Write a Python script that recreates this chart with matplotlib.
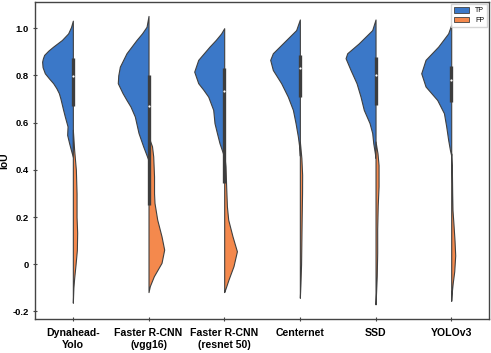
import numpy as np
import matplotlib
matplotlib.use("Agg")
import matplotlib.pyplot as plt
from matplotlib.patches import Patch

plt.rcParams['font.family'] = ['Liberation Sans', 'DejaVu Sans']
plt.rcParams['font.weight'] = 'bold'

models = ['Dynahead-\nYolo', 'Faster R-CNN\n(vgg16)', 'Faster R-CNN\n(resnet 50)',
          'Centernet', 'SSD', 'YOLOv3']

# density profiles: IoU level and half-width (x units)
tp_y = [
    [1.032, 1.005, 0.978, 0.950, 0.922, 0.905, 0.887, 0.872, 0.858, 0.835, 0.809, 0.788,
     0.767, 0.746, 0.725, 0.703, 0.682, 0.655, 0.626, 0.584, 0.548, 0.513, 0.485, 0.455],
    [1.052, 1.006, 0.978, 0.950, 0.922, 0.894, 0.837, 0.800, 0.767, 0.725, 0.696, 0.668,
     0.626, 0.556, 0.499, 0.457, 0.440],
    [1.000, 0.978, 0.950, 0.922, 0.866, 0.816, 0.767, 0.740, 0.710, 0.654, 0.598, 0.556,
     0.513, 0.471, 0.450],
    [1.037, 0.992, 0.936, 0.894, 0.866, 0.823, 0.767, 0.710, 0.654, 0.598, 0.541, 0.499,
     0.460],
    [1.037, 0.992, 0.936, 0.894, 0.873, 0.823, 0.767, 0.710, 0.654, 0.598, 0.556, 0.513,
     0.471, 0.450],
    [1.014, 0.978, 0.922, 0.866, 0.809, 0.753, 0.696, 0.640, 0.584, 0.527, 0.485, 0.460],
]
tp_w = [
    [0.0, 0.024, 0.062, 0.145, 0.260, 0.324, 0.379, 0.396, 0.406, 0.400, 0.370, 0.317,
     0.260, 0.218, 0.185, 0.165, 0.149, 0.129, 0.106, 0.070, 0.075, 0.049, 0.026, 0.0],
    [0.0, 0.026, 0.086, 0.159, 0.225, 0.291, 0.379, 0.400, 0.406, 0.343, 0.291, 0.238,
     0.181, 0.132, 0.070, 0.020, 0.0],
    [0.0, 0.040, 0.112, 0.194, 0.343, 0.396, 0.343, 0.277, 0.211, 0.145, 0.128, 0.096,
     0.062, 0.017, 0.0],
    [0.0, 0.049, 0.225, 0.357, 0.392, 0.357, 0.247, 0.159, 0.092, 0.057, 0.026, 0.009,
     0.0],
    [0.0, 0.044, 0.221, 0.374, 0.396, 0.330, 0.251, 0.198, 0.155, 0.079, 0.044, 0.030,
     0.009, 0.0],
    [0.0, 0.040, 0.172, 0.339, 0.396, 0.339, 0.185, 0.096, 0.066, 0.040, 0.017, 0.0],
]
fp_y = [
    [0.570, 0.485, 0.400, 0.300, 0.200, 0.134, 0.060, 0.000, -0.060, -0.100, -0.163],
    [0.540, 0.500, 0.457, 0.372, 0.300, 0.260, 0.189, 0.118, 0.062, 0.006, -0.051,
     -0.093, -0.118],
    [0.470, 0.414, 0.330, 0.245, 0.189, 0.118, 0.055, -0.008, -0.065, -0.107, -0.118],
    [0.520, 0.450, 0.380, 0.300, 0.200, 0.100, 0.000, -0.080, -0.142],
    [0.520, 0.470, 0.420, 0.330, 0.250, 0.150, 0.050, -0.050, -0.120, -0.170],
    [0.470, 0.400, 0.300, 0.230, 0.170, 0.100, 0.037, -0.030, -0.080, -0.120, -0.155],
]
fp_w = [
    [0.0, 0.017, 0.040, 0.049, 0.049, 0.057, 0.053, 0.036, 0.017, 0.007, 0.0],
    [0.0, 0.046, 0.062, 0.073, 0.073, 0.079, 0.115, 0.172, 0.207, 0.172, 0.070,
     0.017, 0.0],
    [0.0, 0.017, 0.026, 0.036, 0.053, 0.110, 0.168, 0.123, 0.057, 0.013, 0.0],
    [0.0, 0.020, 0.030, 0.029, 0.024, 0.020, 0.016, 0.008, 0.0],
    [0.0, 0.026, 0.040, 0.040, 0.029, 0.022, 0.022, 0.016, 0.007, 0.0],
    [0.0, 0.009, 0.013, 0.017, 0.030, 0.044, 0.053, 0.040, 0.020, 0.007, 0.0],
]

# box stats of the pooled data
q1 = [0.671, 0.252, 0.344, 0.710, 0.675, 0.689]
median = [0.798, 0.671, 0.736, 0.830, 0.802, 0.781]
q3 = [0.873, 0.802, 0.830, 0.887, 0.877, 0.840]

tp_color = '#3b78c8'
fp_color = '#f4894d'
edge = '#404040'

fig = plt.figure(figsize=(4.91, 3.53), dpi=100)
ax = fig.add_axes([0.0713, 0.0963, 0.9247, 0.898])

for i in range(len(models)):
    y = np.array(tp_y[i])
    w = np.array(tp_w[i])
    ax.fill_betweenx(y, i - w, i, facecolor=tp_color, edgecolor=edge, linewidth=0.8, zorder=2)
    y = np.array(fp_y[i])
    w = np.array(fp_w[i])
    ax.fill_betweenx(y, i, i + w, facecolor=fp_color, edgecolor=edge, linewidth=0.8, zorder=2)

    ax.plot([i, i], [q1[i], q3[i]], color='#3d3d3d', linewidth=2.4,
            solid_capstyle='butt', zorder=3)
    ax.plot(i, median[i], 'o', color='white', markersize=1.6, markeredgewidth=0, zorder=4)

ax.set_xlim(-0.5, len(models) - 0.5)
ax.set_ylim(-0.232, 1.111)
ax.set_xticks(range(len(models)))
ax.set_xticklabels(models, fontsize=7.6, fontweight='bold')
yticks = [-0.2, 0, 0.2, 0.4, 0.6, 0.8, 1.0]
ax.set_yticks(yticks)
ax.set_yticklabels(['-0.2', '0', '0.2', '0.4', '0.6', '0.8', '1.0'], fontsize=6.8,
                   fontweight='bold')
ax.set_ylabel('IoU', fontsize=7.5, fontweight='bold', labelpad=2)
ax.tick_params(direction='inout', length=3, width=0.8, color='#444444', pad=3)
ax.tick_params(axis='x', pad=5)

for s in ax.spines.values():
    s.set_color('#444444')
    s.set_linewidth(1.0)

handles = [Patch(facecolor=tp_color, edgecolor=edge, linewidth=0.6, label='TP'),
           Patch(facecolor=fp_color, edgecolor=edge, linewidth=0.6, label='FP')]
leg = ax.legend(handles=handles, loc='upper right', fontsize=5, handlelength=2.2,
                handleheight=0.9, borderpad=0.4, labelspacing=0.35, fancybox=False,
                borderaxespad=0.3)
for t in leg.get_texts():
    t.set_fontweight('normal')

fig.savefig('out.png', dpi=100)
